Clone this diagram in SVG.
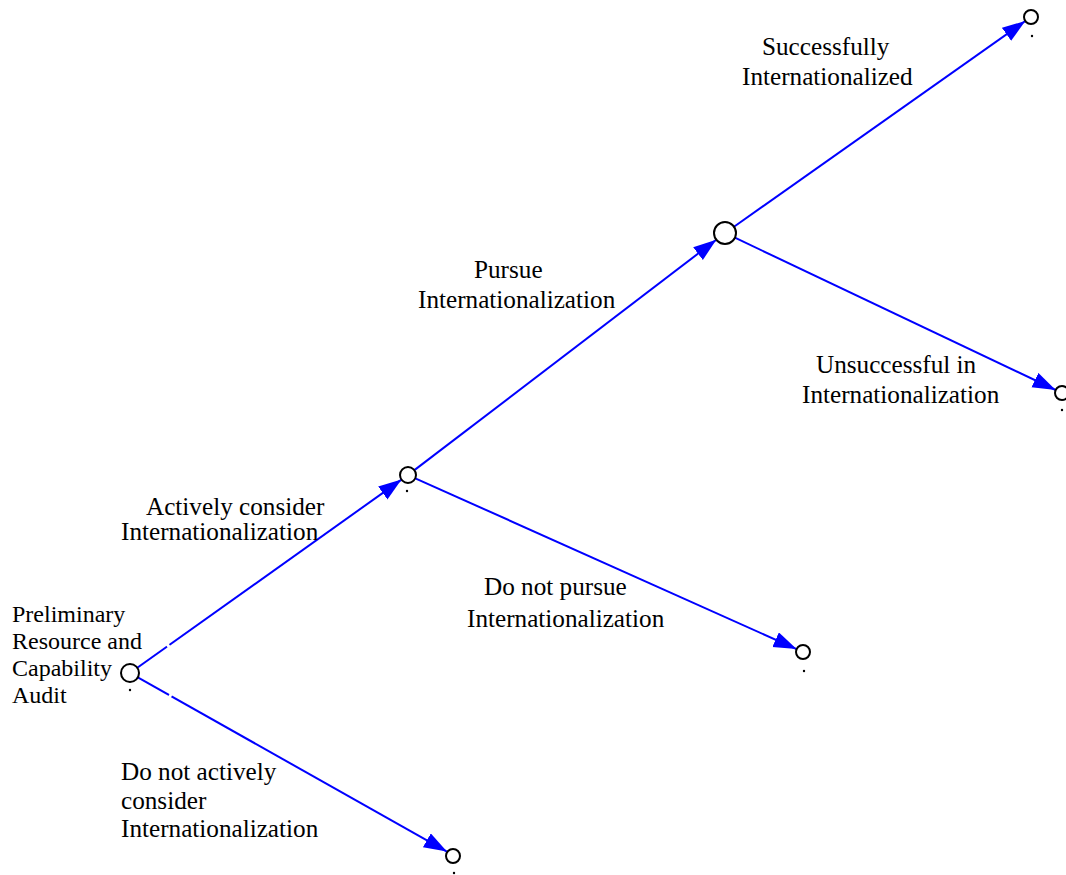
<svg xmlns="http://www.w3.org/2000/svg" width="1066" height="875" viewBox="0 0 1066 875">
<style>
.edge{stroke:#0000ff;stroke-width:2;fill:none;marker-end:url(#arr)}
.node{fill:#fff;stroke:#000;stroke-width:2}
.dot{fill:#000}
.lbl{font-family:"Liberation Serif","Times New Roman",serif;font-size:25.2px;fill:#000}
.lbl2{font-family:"Liberation Serif","Times New Roman",serif;font-size:24px;fill:#000}
.gap{stroke:#fff;stroke-width:4}
</style>
<defs>
<marker id="arr" markerUnits="userSpaceOnUse" markerWidth="26" markerHeight="18" refX="23" refY="8" orient="auto">
<path d="M0,0 L23,8 L0,16 z" fill="#0000ff"/>
</marker>
</defs>
<rect width="1066" height="875" fill="#fff"/>
<g id="connectors">
<line class="edge" x1="137.3" y1="667.8" x2="401.5" y2="479.6"/>
<line class="edge" x1="137.8" y1="677.4" x2="446.9" y2="851.6"/>
<line class="edge" x1="414.4" y1="470.1" x2="716.3" y2="239.7"/>
<line class="edge" x1="415.3" y1="478.3" x2="796.6" y2="649.1"/>
<line class="edge" x1="734" y1="226.7" x2="1025.3" y2="21"/>
<line class="edge" x1="734.9" y1="237.7" x2="1055.7" y2="390"/>
<line class="gap" x1="167" y1="646.6" x2="169.5" y2="644.8"/>
<line class="gap" x1="169" y1="695" x2="171.5" y2="696.4"/>
</g>
<g id="root">
<circle class="node" cx="130" cy="673" r="9"/>
<circle class="dot" cx="130" cy="690" r="1.2"/>
<text class="lbl2"><tspan x="12" y="622">Preliminary</tspan><tspan x="12" y="649">Resource and</tspan><tspan x="12" y="676">Capability</tspan><tspan x="12" y="703">Audit</tspan></text>
</g>
<g id="node-consider">
<circle class="node" cx="408" cy="475" r="8"/>
<circle class="dot" cx="407" cy="491" r="1.2"/>
</g>
<g id="node-pursue">
<circle class="node" cx="725" cy="233" r="11"/>
</g>
<g id="leaf-success">
<circle class="node" cx="1031" cy="17" r="7"/>
<circle class="dot" cx="1032" cy="36" r="1.2"/>
</g>
<g id="leaf-unsuccess">
<circle class="node" cx="1062" cy="393" r="7"/>
<circle class="dot" cx="1062" cy="410" r="1.2"/>
</g>
<g id="leaf-notpursue">
<circle class="node" cx="803" cy="652" r="7"/>
<circle class="dot" cx="804" cy="671" r="1.2"/>
</g>
<g id="leaf-notconsider">
<circle class="node" cx="453" cy="856" r="7"/>
<circle class="dot" cx="454" cy="873" r="1.2"/>
</g>
<g id="labels">
<text class="lbl"><tspan x="762" y="55">Successfully</tspan><tspan x="742" y="85">Internationalized</tspan></text>
<text class="lbl"><tspan x="474" y="278">Pursue</tspan><tspan x="418" y="308">Internationalization</tspan></text>
<text class="lbl"><tspan x="816" y="373">Unsuccessful in</tspan><tspan x="802" y="403">Internationalization</tspan></text>
<text class="lbl"><tspan x="146" y="515">Actively consider</tspan><tspan x="121" y="540">Internationalization</tspan></text>
<text class="lbl"><tspan x="484" y="595">Do not pursue</tspan><tspan x="467" y="627">Internationalization</tspan></text>
<text class="lbl"><tspan x="121" y="780">Do not actively</tspan><tspan x="121" y="809">consider</tspan><tspan x="121" y="837">Internationalization</tspan></text>
</g>
</svg>
